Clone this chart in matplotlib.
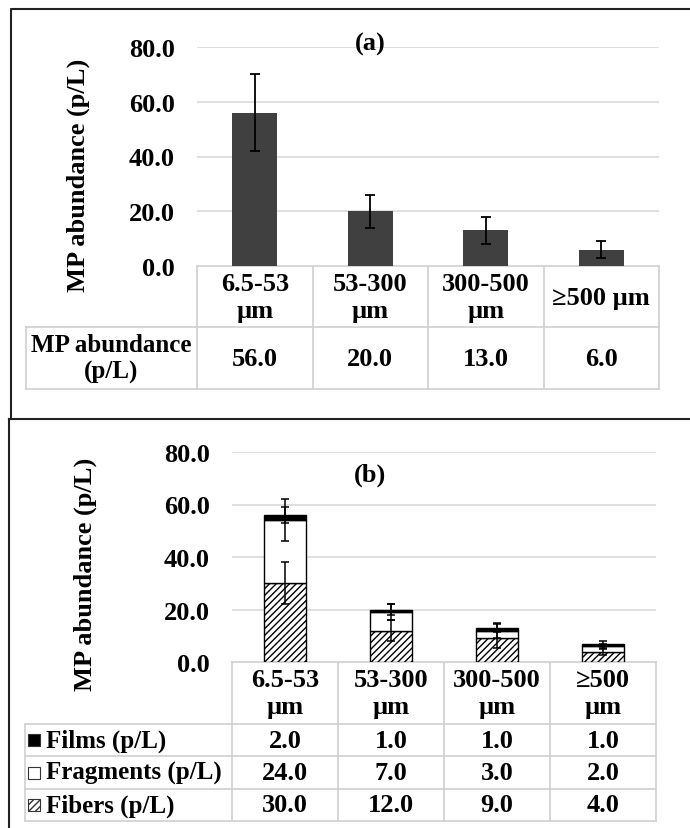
import matplotlib.pyplot as plt
import numpy as np
from matplotlib.patches import Rectangle

plt.rcParams['font.family'] = ['Liberation Serif', 'DejaVu Serif']
plt.rcParams['font.weight'] = 'bold'
plt.rcParams['hatch.linewidth'] = 1.0

W, H = 690, 829

# data
cats_a = ["6.5-53\nµm", "53-300\nµm", "300-500\nµm", "≥500 µm"]
abund = [56.0, 20.0, 13.0, 6.0]
abund_err = [14.0, 6.0, 5.0, 3.0]

cats_b = ["6.5-53\nµm", "53-300\nµm", "300-500\nµm", "≥500\nµm"]
fibers = [30.0, 12.0, 9.0, 4.0]
fragments = [24.0, 7.0, 3.0, 2.0]
films = [2.0, 1.0, 1.0, 1.0]
fibers_err = [8.0, 4.0, 3.5, 1.5]
fragments_err = [8.0, 3.0, 3.0, 1.0]
films_err = [3.0, 2.0, 1.5, 1.0]

yticks = [0, 20, 40, 60, 80]
FS = 19
FS_LBL = 18
GRID = '#d9d9d9'
TBL = '#d0d0d0'


def box(x0, y0, x1, y1):
    # pixel box -> figure fractions
    return [x0 / W, 1 - y1 / H, (x1 - x0) / W, (y1 - y0) / H]


fig = plt.figure(figsize=(W / 100, H / 100), dpi=100)

# overlay axes in pixel coords for frames and tables
ov = fig.add_axes([0, 0, 1, 1])
ov.set_xlim(0, W)
ov.set_ylim(H, 0)
ov.axis('off')
ov.plot([11, 11, W], [420, 9.5, 9.5], color='#222222', lw=1.5)
ov.plot([9, 9], [H, 420], color='#222222', lw=1.5)
ov.plot([9, W], [420, 420], color='#222222', lw=1.5)


def style_axes(ax, pad):
    ax.set_ylim(0, 80)
    ax.set_xlim(-0.5, 3.5)
    ax.set_yticks(yticks)
    ax.set_yticklabels([f"{v:.1f}" for v in yticks], fontsize=FS, fontweight='bold')
    ax.tick_params(axis='y', length=0, pad=pad)
    ax.set_xticks([])
    for s in ax.spines.values():
        s.set_visible(False)
    ax.grid(axis='y', color=GRID, lw=1.2)
    ax.set_axisbelow(True)
    ax.patch.set_alpha(0)


# ---------- panel (a)
axa = fig.add_axes(box(197, 48, 659, 267))
axa.bar(range(4), abund, width=0.39, color='#404040', zorder=2,
        yerr=abund_err, error_kw=dict(ecolor='black', elinewidth=1.3, capsize=3.5, capthick=1.3))
style_axes(axa, 16)
axa.set_ylabel("MP abundance (p/L)", fontsize=FS, fontweight='bold')
axa.yaxis.set_label_coords(-0.232, 0.42)
fig.text(370 / W, 1 - 44 / H, "(a)", fontsize=FS, fontweight='bold', ha='center', va='center')

# table (a)
cols_a = np.linspace(197, 659, 5)
for y in [267, 328, 390]:
    x0 = 197 if y == 267 else 26
    ov.plot([x0, 659], [y, y], color=TBL, lw=1.2)
for xc in cols_a:
    ov.plot([xc, xc], [267, 390], color=TBL, lw=1.2)
ov.plot([26, 26], [328, 390], color=TBL, lw=1.2)
for i, c in enumerate(cats_a):
    ov.text((cols_a[i] + cols_a[i + 1]) / 2, 298, c, fontsize=FS, fontweight='bold',
            ha='center', va='center', linespacing=1.2)
    ov.text((cols_a[i] + cols_a[i + 1]) / 2, 359, f"{abund[i]:.1f}", fontsize=FS,
            fontweight='bold', ha='center', va='center')
ov.text(111, 359, "MP abundance\n(p/L)", fontsize=FS_LBL, fontweight='bold',
        ha='center', va='center', linespacing=1.15)

# ---------- panel (b)
axb = fig.add_axes(box(232, 453, 656, 663))
x = np.arange(4)
ekw = dict(ecolor='black', elinewidth=1.1, capsize=3, capthick=1.1)
bot2 = np.array(fibers) + np.array(fragments)
axb.bar(x, fibers, width=0.4, color='white', edgecolor='black', hatch='/////', lw=1.0,
        zorder=2, yerr=fibers_err, error_kw=ekw)
axb.bar(x, fragments, width=0.4, bottom=fibers, color='white', edgecolor='black', lw=1.0,
        zorder=2, yerr=fragments_err, error_kw=ekw)
axb.bar(x, films, width=0.4, bottom=bot2, color='black', edgecolor='black', lw=1.0,
        zorder=2, yerr=films_err, error_kw=ekw)
style_axes(axb, 16)
axb.set_ylabel("MP abundance (p/L)", fontsize=FS, fontweight='bold')
axb.yaxis.set_label_coords(-0.318, 0.42)
fig.text(370 / W, 1 - 475 / H, "(b)", fontsize=FS, fontweight='bold', ha='center', va='center')

# table (b)
cols_b = np.linspace(232, 656, 5)
rows_b = [663, 725, 757, 790, 822]
for y in rows_b:
    x0 = 232 if y == 663 else 25
    ov.plot([x0, 656], [y, y], color=TBL, lw=1.2)
for xc in cols_b:
    ov.plot([xc, xc], [663, 822], color=TBL, lw=1.2)
ov.plot([25, 25], [725, 822], color=TBL, lw=1.2)
series = [("Films (p/L)", films, 'black', ''),
          ("Fragments (p/L)", fragments, 'white', ''),
          ("Fibers (p/L)", fibers, 'white', '/////')]
for i, c in enumerate(cats_b):
    ov.text((cols_b[i] + cols_b[i + 1]) / 2, 694, c, fontsize=FS, fontweight='bold',
            ha='center', va='center', linespacing=1.2)
for r, (name, vals, fc, hatch) in enumerate(series):
    yc = (rows_b[r + 1] + rows_b[r + 2]) / 2
    ov.add_patch(Rectangle((28, yc - 6), 12, 12, facecolor=fc, edgecolor='#333333',
                           hatch=hatch, lw=0.8))
    ov.text(46, yc, name, fontsize=FS_LBL, fontweight='bold', ha='left', va='center')
    for i, v in enumerate(vals):
        ov.text((cols_b[i] + cols_b[i + 1]) / 2, yc, f"{v:.1f}", fontsize=FS,
                fontweight='bold', ha='center', va='center')

fig.savefig("out.png", dpi=100)
